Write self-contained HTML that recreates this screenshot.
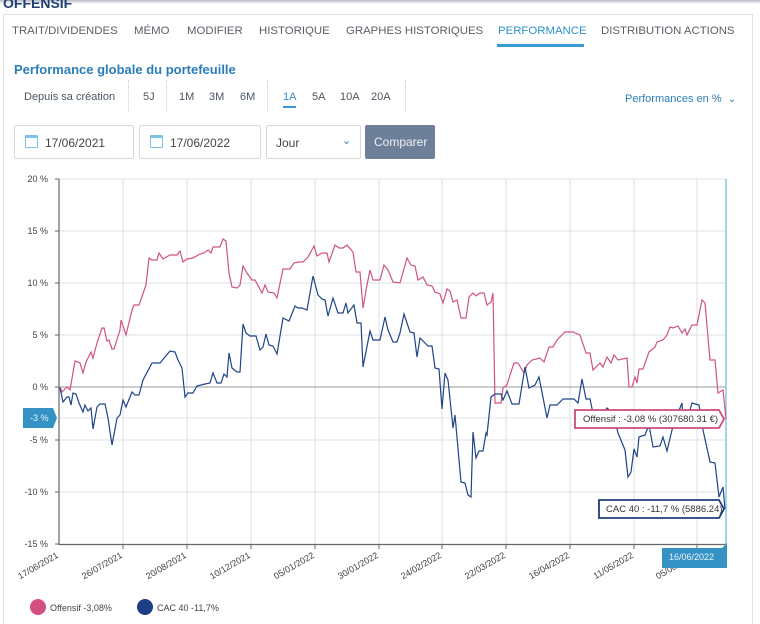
<!DOCTYPE html>
<html><head><meta charset="utf-8"><style>
*{margin:0;padding:0;box-sizing:border-box}
body{width:760px;height:615px;background:#fff;font-family:"Liberation Sans",sans-serif;position:relative;overflow:hidden;color:#555}
.abs{position:absolute;white-space:nowrap}
.tab{top:25px;font-size:11.4px;color:#5a5f66}
.per{top:91px;font-size:11px;color:#4a5560}
.inp{position:absolute;top:125px;height:34px;border:1px solid #d5d9de;border-radius:2px;font-size:12px;color:#444;padding:10px 0 0 30px}
.cal{position:absolute;left:10px;top:9px;width:13px;height:13px;border:1.3px solid #7cc3e6;border-top-width:3px;border-radius:1px}
</style></head><body>
<div class="abs" style="left:0;top:0;width:760px;height:4px;background:linear-gradient(#b8bcc4,#fff)"></div>
<div class="abs" style="left:3px;top:-5px;font-size:14px;font-weight:bold;color:#1f3f72">OFFENSIF</div>
<div class="abs" style="left:3px;top:14px;width:750px;height:610px;border:1px solid #dde2e8;border-bottom:none"></div>
<div class="abs tab" style="left:12px">TRAIT/DIVIDENDES</div>
<div class="abs tab" style="left:134px">MÉMO</div>
<div class="abs tab" style="left:187px">MODIFIER</div>
<div class="abs tab" style="left:259px">HISTORIQUE</div>
<div class="abs tab" style="left:346px">GRAPHES HISTORIQUES</div>
<div class="abs tab" style="left:498px;color:#2e90cc">PERFORMANCE</div>
<div class="abs" style="left:497px;top:44px;width:87px;height:3px;background:#3a9ad6"></div>
<div class="abs tab" style="left:601px">DISTRIBUTION ACTIONS</div>
<div class="abs" style="left:14px;top:62px;font-size:13px;font-weight:bold;color:#2b7db9">Performance globale du portefeuille</div>
<div class="abs per" style="left:24px">Depuis sa création</div>
<div class="abs" style="left:128px;top:80px;height:32px;border-left:1px dotted #ccc"></div>
<div class="abs per" style="left:143px">5J</div>
<div class="abs" style="left:166px;top:80px;height:32px;border-left:1px dotted #ccc"></div>
<div class="abs per" style="left:179px">1M</div>
<div class="abs per" style="left:209px">3M</div>
<div class="abs per" style="left:240px">6M</div>
<div class="abs" style="left:267px;top:80px;height:32px;border-left:1px dotted #ccc"></div>
<div class="abs per" style="left:283px;color:#2e90cc">1A</div>
<div class="abs" style="left:283px;top:106px;width:13px;height:2px;background:#3a9ad6"></div>
<div class="abs per" style="left:312px">5A</div>
<div class="abs per" style="left:340px">10A</div>
<div class="abs per" style="left:371px">20A</div>
<div class="abs" style="left:405px;top:80px;height:32px;border-left:1px dotted #ccc"></div>
<div class="abs" style="left:625px;top:93px;font-size:11px;color:#2b7db9">Performances en % &nbsp;<span style="font-size:10px">&#8964;</span></div>
<div class="inp" style="left:14px;width:120px"><span class="cal"></span>17/06/2021</div>
<div class="inp" style="left:139px;width:122px"><span class="cal"></span>17/06/2022</div>
<div class="inp" style="left:266px;width:95px;padding-left:9px">Jour<span style="position:absolute;left:75px;top:8px;color:#2b7db9;font-size:11px">&#8964;</span></div>
<div class="abs" style="left:365px;top:125px;width:70px;height:34px;background:#6e7f99;border-radius:2px;color:#eef1f5;font-size:12px;padding:10px 0 0 9px">Comparer</div>
<svg class="abs" style="left:0;top:0" width="760" height="615" font-family="Liberation Sans, sans-serif">
<g stroke="#dcdfe4" stroke-width="1">
<line x1="59" y1="179" x2="726" y2="179"/><line x1="59" y1="231" x2="726" y2="231"/><line x1="59" y1="283" x2="726" y2="283"/><line x1="59" y1="335" x2="726" y2="335"/><line x1="59" y1="440" x2="726" y2="440"/><line x1="59" y1="492" x2="726" y2="492"/>
<line x1="123" y1="179" x2="123" y2="544"/><line x1="187" y1="179" x2="187" y2="544"/><line x1="251" y1="179" x2="251" y2="544"/><line x1="315" y1="179" x2="315" y2="544"/><line x1="379" y1="179" x2="379" y2="544"/><line x1="442" y1="179" x2="442" y2="544"/><line x1="506" y1="179" x2="506" y2="544"/><line x1="570" y1="179" x2="570" y2="544"/><line x1="634" y1="179" x2="634" y2="544"/><line x1="697" y1="179" x2="697" y2="544"/>
<line x1="59" y1="418" x2="726" y2="418" stroke="#e3e6ea"/>
</g>
<line x1="59" y1="387" x2="726" y2="387" stroke="#999" stroke-width="1"/>
<line x1="59" y1="179" x2="59" y2="545" stroke="#666" stroke-width="1.2"/>
<line x1="59" y1="544.5" x2="726" y2="544.5" stroke="#666" stroke-width="1.2"/>
<g stroke="#666"><line x1="55" y1="179" x2="59" y2="179"/><line x1="55" y1="231" x2="59" y2="231"/><line x1="55" y1="283" x2="59" y2="283"/><line x1="55" y1="335" x2="59" y2="335"/><line x1="55" y1="387" x2="59" y2="387"/><line x1="55" y1="440" x2="59" y2="440"/><line x1="55" y1="492" x2="59" y2="492"/><line x1="55" y1="544" x2="59" y2="544"/>
<line x1="123" y1="544" x2="123" y2="549"/><line x1="187" y1="544" x2="187" y2="549"/><line x1="251" y1="544" x2="251" y2="549"/><line x1="315" y1="544" x2="315" y2="549"/><line x1="379" y1="544" x2="379" y2="549"/><line x1="442" y1="544" x2="442" y2="549"/><line x1="506" y1="544" x2="506" y2="549"/><line x1="570" y1="544" x2="570" y2="549"/><line x1="634" y1="544" x2="634" y2="549"/><line x1="697" y1="544" x2="697" y2="549"/></g>
<line x1="726" y1="179" x2="726" y2="546" stroke="#8cc6e0" stroke-width="1.5"/>
<g font-size="9" fill="#444" text-anchor="end">
<text x="48" y="182">20 %</text><text x="48" y="234">15 %</text><text x="48" y="286">10 %</text><text x="48" y="338">5 %</text><text x="48" y="390">0 %</text><text x="48" y="443">-5 %</text><text x="48" y="495">-10 %</text><text x="48" y="547">-15 %</text>
</g>
<g font-size="9" fill="#444" text-anchor="end">
<text transform="translate(59,557) rotate(-30)">17/06/2021</text>
<text transform="translate(123,557) rotate(-30)">26/07/2021</text>
<text transform="translate(187,557) rotate(-30)">20/08/2021</text>
<text transform="translate(251,557) rotate(-30)">10/12/2021</text>
<text transform="translate(315,557) rotate(-30)">05/01/2022</text>
<text transform="translate(379,557) rotate(-30)">30/01/2022</text>
<text transform="translate(442,557) rotate(-30)">24/02/2022</text>
<text transform="translate(506,557) rotate(-30)">22/03/2022</text>
<text transform="translate(570,557) rotate(-30)">16/04/2022</text>
<text transform="translate(634,557) rotate(-30)">11/05/2022</text>
<text transform="translate(697,557) rotate(-30)">05/06/2022</text>
</g>
<polyline fill="none" stroke="#d05385" stroke-width="1.2" points="60,387 62,392 67,387 70,390 75,361 80,363 83,373 86,362 91,352 93,358 97,343 102,328 104,328 107,341 109,340 112,349 114,349 120,330 121,320 126,335 132,310 134,305 139,305 146,285 149,258 152,260 157,260 159,253 163,259 170,255 177,255 180,251 183,262 187,259 193,258 200,254 204,253 208,250 211,253 213,247 220,247 223,239 226,241 229,273 232,287 237,288 240,285 243,266 247,273 252,280 255,280 262,293 265,285 268,292 274,293 277,298 283,269 290,269 294,263 298,262 303,262 308,257 314,246 317,256 322,253 327,253 329,262 335,245 339,248 343,248 347,245 353,252 356,272 360,272 363,308 367,285 370,270 373,280 380,280 384,265 388,270 393,282 400,283 407,258 411,265 415,266 418,280 423,277 427,285 432,286 435,292 440,294 443,303 447,289 450,291 453,302 457,300 461,318 466,318 469,297 473,293 476,296 480,293 484,293 487,305 491,302 493,293 495,403 501,403 503,388 507,385 510,375 514,363 518,363 524,373 527,365 532,360 540,358 544,362 549,347 553,347 557,340 565,332 573,332 580,335 586,353 590,353 593,370 600,363 603,367 607,357 611,363 614,355 618,360 627,358 629,387 632,387 635,377 637,383 639,369 643,369 649,352 655,347 657,342 663,340 667,335 670,327 673,328 678,326 682,333 685,329 687,335 692,325 697,325 702,300 705,303 710,360 715,360 718,393 723,390 726,419"/>
<polyline fill="none" stroke="#1f4488" stroke-width="1.2" points="60,388 63,402 67,397 69,397 71,405 73,393 76,394 79,403 83,412 85,405 88,411 91,408 93,429 97,407 100,404 105,404 108,418 112,445 117,418 120,415 123,400 126,407 132,392 135,395 139,395 143,380 152,363 160,363 170,351 175,352 178,360 182,368 185,397 188,393 193,393 197,386 205,384 210,383 213,373 217,383 221,383 224,374 227,377 229,353 232,368 237,372 240,372 243,324 246,333 250,336 256,336 260,350 263,347 266,334 269,345 273,346 277,354 283,318 289,321 295,306 298,308 302,308 307,310 313,276 318,295 322,299 325,300 328,316 333,298 338,313 343,313 346,303 348,313 354,305 357,323 361,323 363,367 370,331 373,340 380,340 385,317 388,330 393,342 397,342 400,333 404,314 410,332 414,333 417,357 420,338 428,346 432,346 435,368 439,369 442,409 445,373 448,380 453,428 455,415 461,482 465,483 468,495 471,497 473,432 476,458 479,451 483,451 486,433 487,435 491,397 495,394 501,394 503,400 507,391 512,404 519,404 525,367 529,388 535,385 539,377 547,418 550,405 557,405 563,399 574,399 578,403 582,379 586,399 590,399 594,418 600,418 607,408 613,413 618,433 625,450 628,477 631,472 634,449 637,457 639,437 645,435 649,425 653,447 660,446 663,437 667,451 672,430 676,418 682,403 683,417 688,417 692,403 699,405 703,430 710,462 715,463 719,497 723,487 725,509"/>
<path d="M575,410 H719 L724,419 L719,428 H575 Z" fill="#fff" stroke="#cc4a7c" stroke-width="1.8"/>
<text x="583" y="422" font-size="9.5" fill="#333">Offensif : -3,08 % (307680.31 €)</text>
<path d="M599,500 H719 L724,509 L719,518 H599 Z" fill="#fff" stroke="#1f3f7a" stroke-width="1.8"/>
<text x="606" y="512" font-size="9.5" fill="#333">CAC 40 : -11,7 % (5886.24)</text>
<path d="M23,408 H53 L57,418 L53,428 H23 Z" fill="#3592c4"/>
<text x="30" y="421" font-size="9" fill="#e8f4fb">-3 %</text>
<path d="M662,548 H722 L727,543 V568 H662 Z" fill="#3592c4"/>
<text x="669" y="560" font-size="9" fill="#eaf5fb">16/06/2022</text>
<circle cx="38" cy="607" r="8" fill="#d24f80"/>
<text x="50" y="611" font-size="9" fill="#444">Offensif  -3,08%</text>
<circle cx="145" cy="607" r="8" fill="#1c3f86"/>
<text x="157" y="611" font-size="9" fill="#444">CAC 40  -11,7%</text>
</svg>
</body></html>
